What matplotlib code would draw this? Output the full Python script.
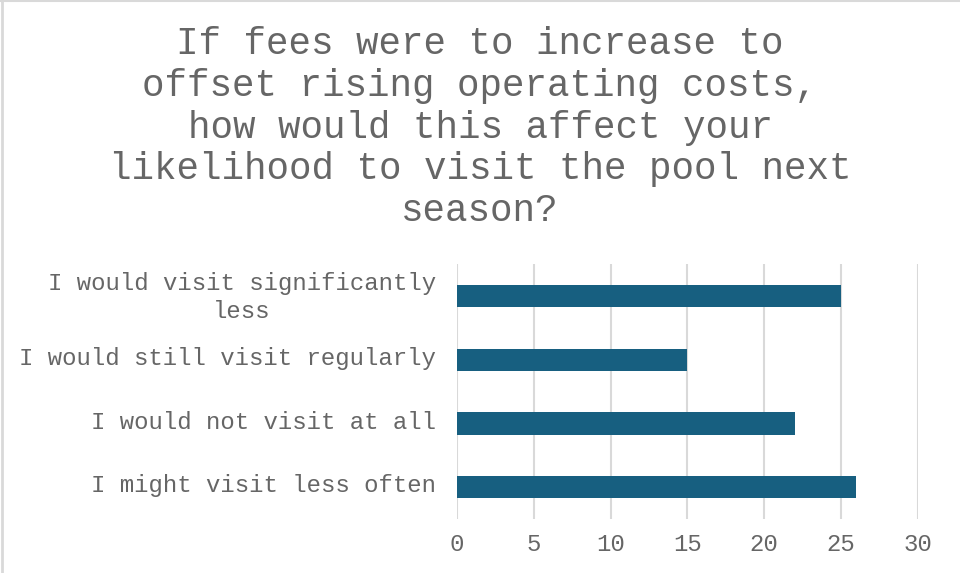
import matplotlib.pyplot as plt
from matplotlib.lines import Line2D
from matplotlib.transforms import ScaledTranslation

# survey answers, bottom to top as drawn
categories = [
    "I might visit less often",
    "I would not visit at all",
    "I would still visit regularly",
    "I would visit significantly\nless",
]
counts = [26, 22, 15, 25]
x_ticks = [0, 5, 10, 15, 20, 25, 30]

title = ("If fees were to increase to\n"
         "offset rising operating costs,\n"
         "how would this affect your\n"
         "likelihood to visit the pool next\n"
         "season?")

text_color = "#666666"
bar_color = "#175f80"
grid_color = "#d9d9d9"

plt.rcParams["font.family"] = ["Liberation Mono", "DejaVu Sans Mono"]

fig = plt.figure(figsize=(9.6, 5.73), dpi=100)
ax = fig.add_axes([0.476, 0.094, 0.48, 0.445])

ax.barh(range(len(categories)), counts, height=0.35, color=bar_color, zorder=3)

ax.set_xlim(0, 30)
ax.set_ylim(-0.5, len(categories) - 0.5)
ax.set_xticks(x_ticks)
ax.set_yticks(range(len(categories)))
ax.set_yticklabels(categories, ha="right", multialignment="center", linespacing=1.3)

ax.grid(axis="x", color=grid_color, linewidth=1.5, zorder=0)
ax.tick_params(axis="both", length=0, labelsize=17.3, labelcolor=text_color)
ax.tick_params(axis="x", pad=10)
ax.tick_params(axis="y", pad=15)
for s in ax.spines.values():
    s.set_visible(False)

# nudge category labels up a little
shift = ScaledTranslation(0, 4 / 100, fig.dpi_scale_trans)
for lab in ax.get_yticklabels():
    lab.set_transform(lab.get_transform() + shift)

fig.text(0.5, 0.955, title, ha="center", va="top", fontsize=27,
         color=text_color, linespacing=1.21)

# chart area border (top and left edges only visible)
fig.add_artist(Line2D([0.002, 0.002], [0, 1], transform=fig.transFigure,
                      color=grid_color, linewidth=2))
fig.add_artist(Line2D([0, 1], [0.999, 0.999], transform=fig.transFigure,
                      color=grid_color, linewidth=1.5))

fig.savefig("out.png", dpi=100)
